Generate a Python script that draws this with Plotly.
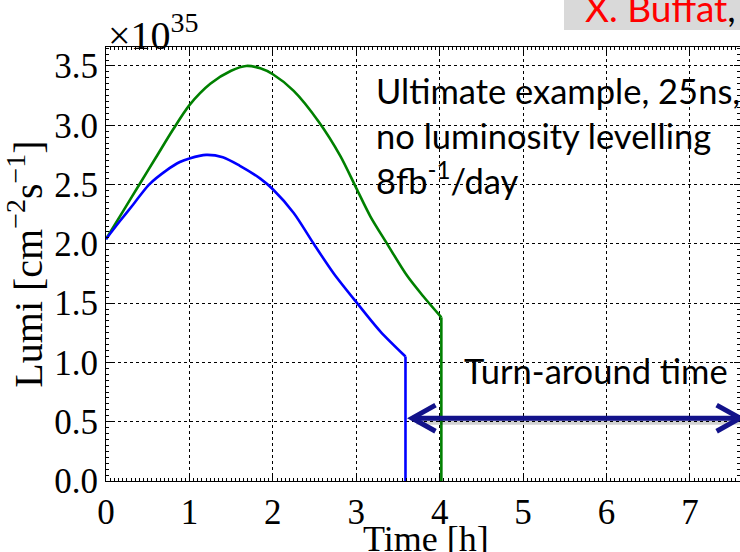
import plotly.graph_objects as go

# Luminosity evolution during a fill (units of 1e35 cm^-2 s^-1), time in hours
time_green = [0.0, 0.2, 0.4, 0.6, 0.8, 1.0, 1.25, 1.5, 1.68, 1.85, 2.0, 2.25,
              2.55, 2.81, 3.0, 3.17, 3.37, 3.61, 3.8, 4.02, 4.02]
lumi_green = [2.04, 2.27, 2.5, 2.73, 2.96, 3.17, 3.35, 3.46, 3.50, 3.48, 3.43, 3.29,
              3.03, 2.74, 2.47, 2.23, 2.0, 1.73, 1.56, 1.38, 0.0]

time_blue = [0.0, 0.165, 0.324, 0.516, 0.725, 0.885, 1.0, 1.2, 1.4, 1.6, 1.85, 2.0,
             2.25, 2.49, 2.73, 3.01, 3.29, 3.59, 3.59]
lumi_blue = [2.04, 2.19, 2.33, 2.5, 2.62, 2.69, 2.72, 2.75, 2.73, 2.66, 2.55, 2.46,
             2.26, 2.0, 1.75, 1.5, 1.26, 1.05, 0.0]

x_ticks = [0, 1, 2, 3, 4, 5, 6, 7]
y_ticks = [0.0, 0.5, 1.0, 1.5, 2.0, 2.5, 3.0, 3.5]
y_tick_text = ["0.0", "0.5", "1.0", "1.5", "2.0", "2.5", "3.0", "3.5"]

# Turn-around interval marker (hours, at lumi level)
turn_start, turn_end, turn_level = 3.67, 7.6, 0.53

serif = "Liberation Serif"
sans = "Lato"
navy = "#12128a"

fig = go.Figure()
for t, l, colour in [(time_green, lumi_green, "#008000"), (time_blue, lumi_blue, "#0000ff")]:
    # smooth decay curve, then the sharp beam dump
    fig.add_trace(go.Scatter(x=t[:-1], y=l[:-1], mode="lines",
                             line=dict(color=colour, width=2.6, shape="spline", smoothing=0.8),
                             showlegend=False))
    fig.add_trace(go.Scatter(x=t[-2:], y=l[-2:], mode="lines",
                             line=dict(color=colour, width=2.6), showlegend=False))

axis_common = dict(
    showline=True, linecolor="black", linewidth=1.2, mirror="allticks",
    ticks="inside", ticklen=6, tickcolor="black", tickwidth=1,
    showgrid=True, gridcolor="black", gridwidth=1, griddash="dot",
    zeroline=False, automargin=False,
    tickfont=dict(family=serif, size=35, color="black"),
)

fig.update_xaxes(range=[0, 7.6], tickvals=x_ticks, ticktext=[str(v) for v in x_ticks],
                 minor=dict(ticks="inside", dtick=0.05, ticklen=3, tickcolor="black", showgrid=False),
                 **axis_common)
fig.update_yaxes(range=[0, 3.66], tickvals=y_ticks, ticktext=y_tick_text,
                 minor=dict(ticks="inside", dtick=0.05, ticklen=3, tickcolor="black", showgrid=False),
                 title=dict(text="Lumi [cm<sup>−2</sup>s<sup>−1</sup>]",
                            font=dict(family=serif, size=40, color="black"), standoff=4),
                 **axis_common)

shapes = [
    # header box
    dict(type="rect", xref="paper", yref="paper", x0=(564 - 106) / 634, x1=1.02,
         y0=(481 - 30) / 434, y1=1.15, fillcolor="#d9d9d9", line=dict(width=0), layer="below"),
    # shadow under the turn-around arrow
    dict(type="line", xref="x", yref="y", x0=turn_start + 0.05, x1=turn_end, y0=turn_level - 0.03,
         y1=turn_level - 0.03, line=dict(color="rgba(0,0,0,0.18)", width=6)),
    # turn-around arrow shaft and heads
    dict(type="line", xref="x", yref="y", x0=turn_start + 0.03, x1=turn_end, y0=turn_level,
         y1=turn_level, line=dict(color=navy, width=5)),
    dict(type="path", xref="x", yref="y",
         path=f"M {turn_start + 0.28},{turn_level + 0.11} L {turn_start},{turn_level} L {turn_start + 0.28},{turn_level - 0.11}",
         line=dict(color=navy, width=5)),
    dict(type="path", xref="x", yref="y",
         path=f"M {turn_end - 0.28},{turn_level + 0.11} L {turn_end},{turn_level} L {turn_end - 0.28},{turn_level - 0.11}",
         line=dict(color=navy, width=5)),
]

annotations = [
    # x-axis title, sitting low so that it runs off the bottom edge
    dict(xref="paper", yref="paper", x=(426 - 106) / 634, y=(481 - 517) / 434,
         xanchor="center", yanchor="top", showarrow=False,
         text="Time [h]", font=dict(family=serif, size=36, color="black")),
    dict(xref="paper", yref="paper", x=(106 - 106) / 634, y=(481 - 60) / 434,
         xanchor="left", yanchor="bottom", showarrow=False,
         text="×10<sup>35</sup>", font=dict(family=serif, size=40, color="black")),
    dict(xref="paper", yref="paper", x=(374 - 106) / 634, y=(481 - 68) / 434,
         xanchor="left", yanchor="top", align="left", showarrow=False,
         text="Ultimate example, 25ns,<br>no luminosity levelling<br>8fb<sup>-1</sup>/day",
         font=dict(family=sans, size=34.5, color="black")),
    dict(xref="paper", yref="paper", x=(462 - 106) / 634, y=(481 - 370) / 434,
         xanchor="left", yanchor="middle", showarrow=False,
         text="Turn-around time", font=dict(family=sans, size=34.5, color="black")),
    dict(xref="paper", yref="paper", x=(583 - 106) / 634, y=(481 - 32) / 434,
         xanchor="left", yanchor="bottom", showarrow=False,
         text="<span style='color:#ff0000'>X. Buffat</span>,",
         font=dict(family=sans, size=37, color="black")),
]

fig.update_layout(
    width=740, height=552,
    margin=dict(l=106, r=0, t=47, b=71),
    paper_bgcolor="white", plot_bgcolor="white",
    shapes=shapes, annotations=annotations,
)

fig.write_html("out.html")
